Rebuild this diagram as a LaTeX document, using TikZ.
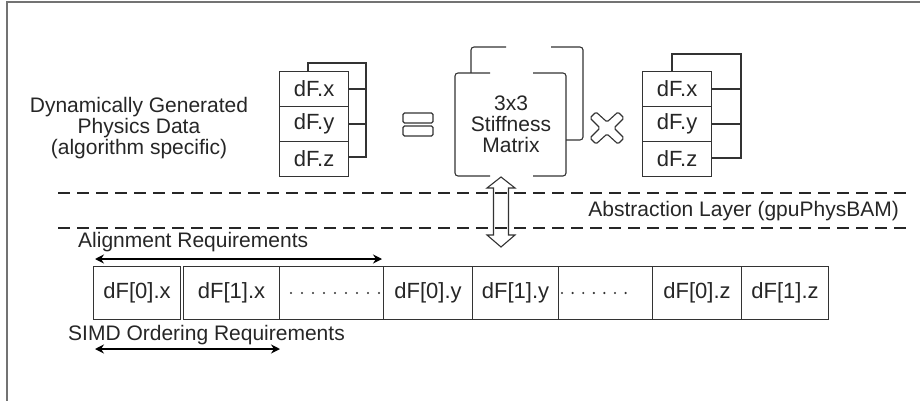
\documentclass[tikz,border=0pt]{standalone}
\usepackage{fontspec}
\setmainfont{Liberation Sans}
\usetikzlibrary{arrows.meta}

\tikzset{
  ink/.style={draw=black!80, line width=1.1pt},
  lbl/.style={font=\fontsize{21}{21}\selectfont, text=black!85, inner sep=0pt},
  boxtext/.style={font=\fontsize{22}{22}\selectfont, text=black!85, inner sep=0pt},
  cell/.style={ink, boxtext, minimum width=69pt, minimum height=35pt, anchor=north west},
  slot/.style={ink, boxtext, minimum height=53pt, anchor=north west},
  layer/.style={draw=black!85, line width=2.2pt, dash pattern=on 12pt off 7pt},
  span/.style={draw=black, line width=1.8pt, {Stealth[length=9pt,width=9pt,inset=3pt]}-{Stealth[length=9pt,width=9pt,inset=3pt]}},
  hollow/.style={draw=black!80, line width=1.1pt, rounded corners=1.5pt},
  frame/.style={draw=black!55, line width=2pt}
}

\begin{document}
\begin{tikzpicture}[x=1pt, y=-1pt]
\useasboundingbox (0,0) rectangle (920,401);

% outer frame (left and top edges)
\draw[frame] (7,401) -- (7,2) -- (920,2);

% ---- left vector stack ----
\node[cell] (lx) at (279,71)  {dF.x};
\node[cell] (ly) at (279,106) {dF.y};
\node[cell] (lz) at (279,141) {dF.z};
\draw[ink] (308,71) -- (308,63) -- (366,63) -- (366,157) -- (348,157);
\draw[ink] (lx.east) -- (lx.east -| 366,0);
\draw[ink] (ly.east) -- (ly.east -| 366,0);

\node[lbl, align=center] (desc) at (139,128)
  {Dynamically Generated\\Physics Data\\(algorithm specific)};

% ---- equals sign ----
\draw[hollow] (403,113) rectangle (433,123);
\draw[hollow] (403,126) rectangle (433,136);

% ---- stiffness matrix (two bracket pairs) ----
\draw[ink, rounded corners=3pt] (471,73) -- (471,47) -- (506,47);
\draw[ink, rounded corners=3pt] (551,47) -- (583,47) -- (583,140) -- (566,140);
\draw[ink, rounded corners=3pt] (490,73) -- (455,73) -- (455,176) -- (490,176);
\draw[ink, rounded corners=3pt] (533,73) -- (566,73) -- (566,176) -- (533,176);
\node[lbl, align=center] (mat) at (511,124) {3x3\\Stiffness\\Matrix};

% ---- multiplication sign ----
\draw[hollow] (590,118) -- (596,112) -- (607,122) -- (618,112) -- (624,118)
  -- (614,128) -- (624,138) -- (618,144) -- (607,134) -- (596,144)
  -- (590,138) -- (600,128) -- cycle;

% ---- right vector stack ----
\node[cell] (rx) at (642,71)  {dF.x};
\node[cell] (ry) at (642,106) {dF.y};
\node[cell] (rz) at (642,141) {dF.z};
\draw[ink] (672,71) -- (672,54) -- (741,54) -- (741,158) -- (711,158);
\draw[ink] (rx.east) -- (rx.east -| 741,0);
\draw[ink] (ry.east) -- (ry.east -| 741,0);

% ---- abstraction layer ----
\draw[layer] (58,193) -- (907,193);
\draw[layer] (58,228) -- (907,228);
\node[lbl, anchor=east] (abs) at (899,211) {Abstraction Layer (gpuPhysBAM)};

% hollow double arrow through the layer
\draw[ink] (501,177) -- (515,188) -- (508.5,188) -- (508.5,235) -- (515,235)
  -- (501,247) -- (487,235) -- (493.5,235) -- (493.5,188) -- (487,188) -- cycle;

% ---- memory layout row ----
\node[slot, minimum width=87pt]  (s1) at (93,266)  {dF[0].x};
\node[slot, minimum width=96pt]  (s2) at (183,266) {dF[1].x};
\node[slot, minimum width=104pt] (g1) at (279,266) {};
\node[slot, minimum width=89pt]  (s3) at (383,266) {dF[0].y};
\node[slot, minimum width=86pt]  (s4) at (472,266) {dF[1].y};
\node[slot, minimum width=94pt]  (g2) at (558,266) {};
\node[slot, minimum width=89pt]  (s5) at (652,266) {dF[0].z};
\node[slot, minimum width=87pt]  (s6) at (741,266) {dF[1].z};

\foreach \i in {0,...,8} \fill[black!80] (291+11*\i,293) circle (1.2pt);
\foreach \i in {0,...,6} \fill[black!80] (562+10.6*\i,293) circle (1.2pt);

% ---- requirement spans ----
\node[lbl, anchor=west] (alab) at (78,242) {Alignment Requirements};
\coordinate (a0) at (95,259);
\coordinate (a1) at (382,259);
\draw[span] (a0) -- (a1);

\node[lbl, anchor=west] (slab) at (68,335) {SIMD Ordering Requirements};
\coordinate (m0) at (95,349);
\coordinate (m1) at (280,349);
\draw[span] (m0) -- (m1);

\end{tikzpicture}
\end{document}
